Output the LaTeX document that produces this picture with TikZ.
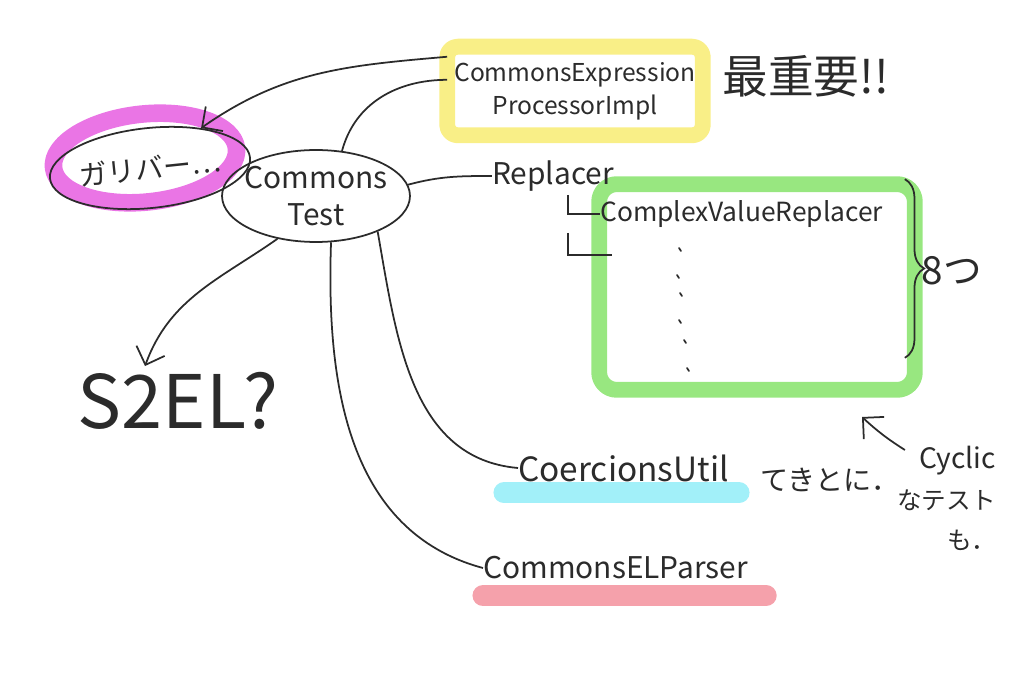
\documentclass[tikz,border=0pt]{standalone}
\usepackage{fontspec}
\setmainfont{Noto Sans CJK JP}
\usetikzlibrary{arrows.meta,shapes.geometric,decorations.pathreplacing,calc,backgrounds}
\definecolor{ink}{HTML}{2B2B2B}
\definecolor{hlyellow}{HTML}{F8EC72}
\definecolor{hlgreen}{HTML}{86E36A}
\definecolor{hlpink}{HTML}{E65DE0}
\definecolor{hlcyan}{HTML}{92EDF8}
\definecolor{hlred}{HTML}{F3919C}
\newcommand\penfont[2]{\fontsize{#1}{#2}\selectfont}
\tikzset{
  pen/.style={draw=ink, line width=1pt},
  arr/.style={pen, -{Straight Barb[length=3mm,width=6mm]}},
  marker/.style={line width=#1, line cap=round, line join=round, opacity=.85},
  txt/.style={text=ink, inner sep=0pt},
}
\begin{document}
\begin{tikzpicture}[x=0.02cm,y=0.02cm]
	\useasboundingbox (0,0) rectangle (1024,-692);
	% main class and its note
	\node[txt, minimum width=5.1cm, minimum height=1.76cm, align=center, font=\penfont{14pt}{19pt}] (proc) at (575,-91) {CommonsExpression\\ProcessorImpl};
	\node[txt, anchor=west, font=\penfont{26pt}{26pt}] (note) at (722,-76) {最重要!!};
	% the two ellipses
	\node[pen, txt, ellipse, rotate=6, minimum width=3.55cm, minimum height=1.6cm, font=\penfont{16pt}{16pt}] (gari) at (150,-168) {ガリバー…};
	\node[pen, txt, ellipse, inner xsep=-0.3cm, inner ysep=-0.1cm, minimum width=3.76cm, minimum height=1.84cm, align=center, font=\penfont{17pt}{21pt}] (test) at (316,-196) {Commons\\Test};
	% replacers
	\node[txt, font=\penfont{17pt}{17pt}] (repl) at (553,-176) {Replacer};
	\node[txt, minimum width=6.3cm, minimum height=4.1cm] (grp) at (757,-287) {};
	\node[txt, anchor=west, font=\penfont{15pt}{15pt}] (cvr) at (600,-214) {ComplexValueReplacer};
	\coordinate (tree) at (568,-195);
	\draw[pen] (tree) |- (cvr.west);
	\draw[pen] ($(tree)+(0,-38)$) |- ++(44,-22);
	\foreach \x/\y in {679/248, 677/275, 680/293, 679/320, 684/340, 687/368}
	  \draw[pen, line cap=round] (\x,-\y) -- ++(2,-3);
	\draw[pen, decorate, decoration={brace, amplitude=11pt}] ($(grp.north east)+(-10,5)$) -- ($(grp.south east)+(-10,32)$);
	\node[txt, font=\penfont{22pt}{22pt}] (eight) at (952,-271) {8つ};
	% the rest
	\node[txt, font=\penfont{42pt}{42pt}] (s2el) at (178,-401) {S2EL?};
	\node[txt, anchor=west, font=\penfont{19pt}{19pt}] (coer) at (518,-468) {CoercionsUtil};
	\node[txt, anchor=west, font=\penfont{16pt}{16pt}] (tekito) at (760,-480) {てきとに．};
	\node[txt, anchor=west, font=\penfont{17pt}{17pt}] (parser) at (483,-568) {CommonsELParser};
	\node[txt, align=right, anchor=north east, font=\penfont{14pt}{23pt}] (cyc) at (996,-446) {{\penfont{16pt}{23pt}Cyclic}\\なテスト\\も．};
	\coordinate (cycend) at (862,-417);
	% connectors
	\draw[arr] (proc.165) to[out=185,in=35] (gari.32);
	\draw[pen] (test.60) to[out=75,in=180] (proc.175);
	\draw[pen] (test.7) to[out=15,in=180] (repl.west);
	\draw[arr] (test.228) to[out=215,in=70] ([shift={(-33,6)}]s2el.north);
	\draw[pen] (test.-30) to[out=-80,in=175] (coer.west);
	\draw[pen] (test.-72) to[out=-92,in=165] (parser.west);
	\draw[arr] ([shift={(8,-4)}]cyc.north west) to[bend left=5] (cycend);
	% highlighter
	\begin{pgfonlayer}{background}
	  \draw[marker=9pt, hlyellow, rounded corners=6pt] (proc.north west) rectangle (proc.south east);
	  \draw[marker=10pt, hlpink, rotate around={6:(145,-158)}] (145,-158) ellipse [x radius=92, y radius=44];
	  \draw[marker=9pt, hlgreen, rounded corners=10pt] (grp.north west) rectangle (grp.south east);
	  \draw[marker=12pt, hlcyan] ($(coer.south west)+(-14,-11)$) -- ($(coer.south east)+(10,-11)$);
	  \draw[marker=12pt, hlred] ($(parser.south west)+(0,-16)$) -- ($(parser.south east)+(18,-16)$);
	\end{pgfonlayer}
\end{tikzpicture}
\end{document}
